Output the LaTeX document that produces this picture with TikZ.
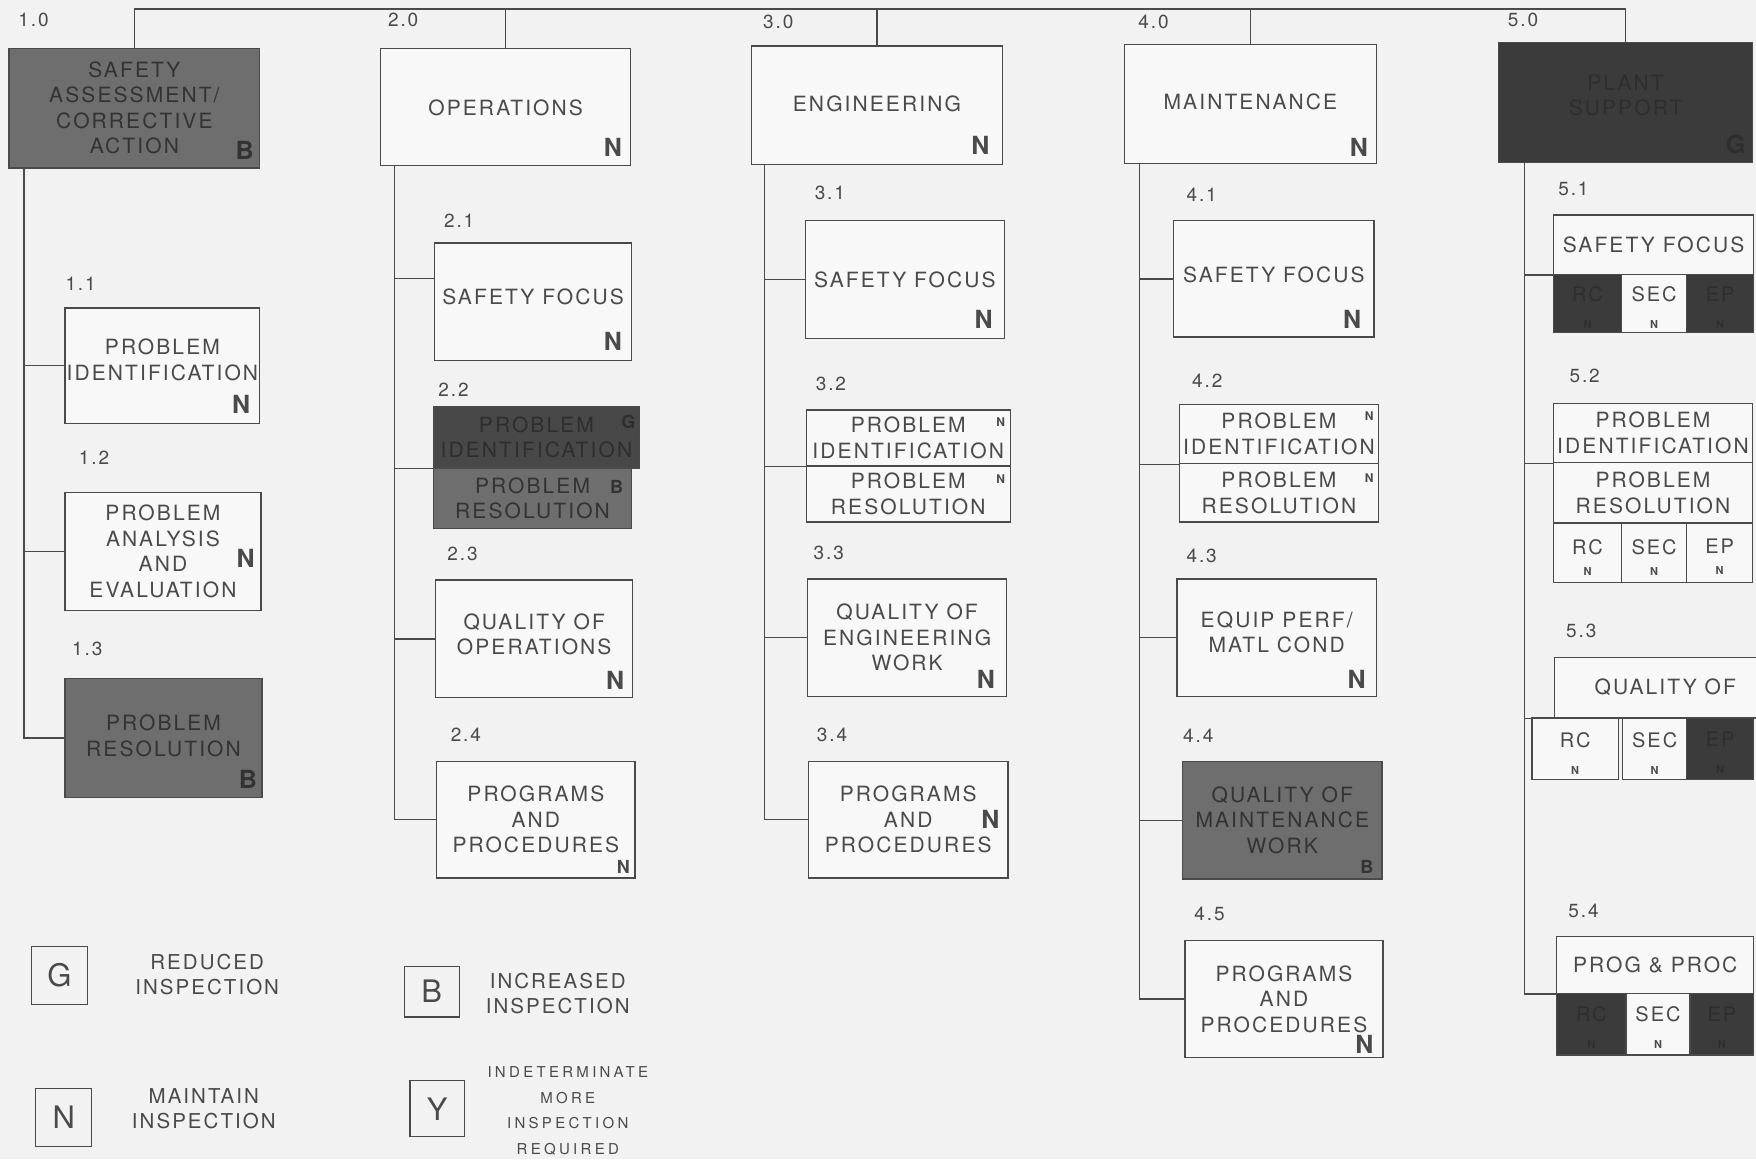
\documentclass[tikz,border=0pt]{standalone}
\usepackage{fontspec}
\setmainfont{TeX Gyre Heros}
\newfontfamily\boxfont[LetterSpace=10]{TeX Gyre Heros}
\newfontfamily\smallfont[LetterSpace=22]{TeX Gyre Heros}
\usetikzlibrary{fit,calc}

\definecolor{paper}{HTML}{F2F2F2}
\definecolor{boxfill}{HTML}{F8F8F8}
\definecolor{ink}{HTML}{4A4A4A}
\definecolor{midshade}{HTML}{6E6E6E}
\definecolor{deepshade}{HTML}{484848}
\definecolor{blackshade}{HTML}{3B3B3B}
\definecolor{shadeink}{HTML}{333333}
\definecolor{deepink}{HTML}{2E2E2E}

\tikzset{
  area/.style={draw=ink, line width=1.3pt, fill=boxfill, inner sep=0pt},
  midarea/.style={area, fill=midshade},
  deeparea/.style={area, fill=deepshade},
  blackarea/.style={area, fill=blackshade},
  word/.style={inner sep=0pt, align=center, text=ink,
    font=\boxfont\fontsize{21}{25.5}\selectfont},
  cellword/.style={word, font=\boxfont\fontsize{20}{27}\selectfont},
  tightword/.style={word, font=\boxfont\fontsize{20}{21}\selectfont},
  rate/.style={inner sep=0pt, text=ink, font=\bfseries\fontsize{25}{25}\selectfont},
  midrate/.style={rate, font=\bfseries\fontsize{18}{18}\selectfont},
  tinyrate/.style={rate, font=\bfseries\fontsize{12}{12}\selectfont},
  num/.style={text=ink, font=\boxfont\fontsize{19}{19}\selectfont},
  link/.style={draw=ink, line width=1.3pt},
  legbox/.style={draw=ink, line width=1.3pt, inner sep=0pt},
  legletter/.style={inner sep=0pt, text=ink, font=\fontsize{31}{31}\selectfont},
  legtext/.style={text=ink, align=center, font=\boxfont\fontsize{20.5}{25.5}\selectfont}
}
\newcommand{\cellN}{\\{\bfseries\fontsize{11}{11}\selectfont N}}

\begin{document}
\begin{tikzpicture}[x=1.12pt, y=-1.12pt]
   \useasboundingbox (0,0) rectangle (1568,1035);
   \clip (0,0) rectangle (1568,1035);
   \fill[paper] (0,0) rectangle (1568,1035);

   % top level areas
   \node[midarea, fit={(8,43) (232,150)}] (b10) {};
   \node[word, text=shadeink] (t10) at (b10) {SAFETY\\ASSESSMENT/\\CORRECTIVE\\ACTION};
   \node[area, fit={(340,43) (563,148)}] (b20) {};
   \node[word] (t20) at ($(b20)+(0,1)$) {OPERATIONS};
   \node[area, fit={(671,41) (895,147)}] (b30) {};
   \node[word] (t30) at ($(b30)+(0,-1)$) {ENGINEERING};
   \node[area, fit={(1004,40) (1229,146)}] (b40) {};
   \node[word] (t40) at ($(b40)+(0,-2)$) {MAINTENANCE};
   \node[blackarea, fit={(1338,38) (1565,145)}] (b50) {};
   \node[word, text=deepink] (t50) at ($(b50)+(0,-6)$) {PLANT\\SUPPORT};
   \node[num] (n10) at (30,18) {1.0};
   \node[num] (n20) at (360,18) {2.0};
   \node[num] (n30) at (695,20) {3.0};
   \node[num] (n40) at (1030,20) {4.0};
   \node[num] (n50) at (1360,18) {5.0};
   \coordinate (top) at (0,8);
   \draw[link] (b10.north) -- (b10.north |- top) -- (b50.north |- top) -- (b50.north);
   \draw[link] (b20.north) -- (b20.north |- top);
   \draw[link] (b30.north) -- (b30.north |- top);
   \draw[link] (b40.north) -- (b40.north |- top);
   \node[rate, text=shadeink, anchor=south east] (r10) at ($(b10.south east)+(-6,-8)$) {B};
   \node[rate, anchor=south east] (r20) at ($(b20.south east)+(-8,-9)$) {N};
   \node[rate, anchor=south east] (r30) at ($(b30.south east)+(-12,-9)$) {N};
   \node[rate, anchor=south east] (r40) at ($(b40.south east)+(-8,-7)$) {N};
   \node[rate, text=deepink, anchor=south east] (r50) at ($(b50.south east)+(-7,-8)$) {G};

   % 1.0
   \node[area, fit={(58,275) (232,378)}] (b11) {};
   \node[word] (t11) at ($(b11)+(0,-5)$) {PROBLEM\\IDENTIFICATION};
   \node[area, fit={(58,440) (233,545)}] (b12) {};
   \node[word] (t12) at (b12) {PROBLEM\\ANALYSIS\\AND\\EVALUATION};
   \node[midarea, fit={(58,606) (234,712)}] (b13) {};
   \node[word, text=shadeink] (t13) at ($(b13)+(0,-2)$) {PROBLEM\\RESOLUTION};
   \node[num] (n11) at (72,253) {1.1};
   \node[num] (n12) at (84,409) {1.2};
   \node[num] (n13) at (78,579) {1.3};
   \coordinate (s1) at ($(b10.south west)+(14,0)$);
   \draw[link] (s1) |- (b11.west);
   \draw[link] (s1) |- (b12.west);
   \draw[link] (s1) |- (b13.west);
   \node[rate, anchor=south east] (r11) at ($(b11.south east)+(-9,-9)$) {N};
   \node[rate, anchor=east] (r12) at ($(b12.east)+(-6,6)$) {N};
   \node[rate, text=shadeink, anchor=south east] (r13) at ($(b13.south east)+(-5,-8)$) {B};

   % 2.0
   \node[area, fit={(388,217) (564,322)}] (b21) {};
   \node[word] (t21) at ($(b21)+(0,-4)$) {SAFETY FOCUS};
   \node[deeparea, fit={(387,363) (571,418)}] (b22a) {};
   \node[word, text=deepink] (t22a) at (b22a) {PROBLEM\\IDENTIFICATION};
   \node[midarea, fit={(387,418) (564,472)}] (b22b) {};
   \node[word, text=shadeink] (t22b) at (b22b) {PROBLEM\\RESOLUTION};
   \node[area, fit={(389,518) (565,623)}] (b23) {};
   \node[word] (t23) at ($(b23)+(0,-4)$) {QUALITY OF\\OPERATIONS};
   \node[area, fit={(390,680) (567,784)}] (b24) {};
   \node[word] (t24) at (b24) {PROGRAMS\\AND\\PROCEDURES};
   \node[num] (n21) at (410,197) {2.1};
   \node[num] (n22) at (405,348) {2.2};
   \node[num] (n23) at (413,495) {2.3};
   \node[num] (n24) at (416,656) {2.4};
   \coordinate (s2) at ($(b20.south west)+(13,0)$);
   \draw[link] (s2) |- ([yshift=23pt]b21.west);
   \draw[link] (s2) |- (b22a.south west);
   \draw[link] (s2) |- (b23.west);
   \draw[link] (s2) |- (b24.west);
   \node[rate, anchor=south east] (r21) at ($(b21.south east)+(-9,-9)$) {N};
   \node[midrate, text=deepink, anchor=north east] (r22a) at ($(b22a.north east)+(-4,8)$) {G};
   \node[midrate, text=shadeink, anchor=north east] (r22b) at ($(b22b.north east)+(-8,11)$) {B};
   \node[rate, anchor=south east] (r23) at ($(b23.south east)+(-8,-8)$) {N};
   \node[midrate, anchor=south east] (r24) at ($(b24.south east)+(-5,-4)$) {N};

   % 3.0
   \node[area, fit={(719,197) (897,302)}] (b31) {};
   \node[word] (t31) at (b31) {SAFETY FOCUS};
   \node[area, fit={(720,366) (902,416)}] (b32a) {};
   \node[word] (t32a) at (b32a) {PROBLEM\\IDENTIFICATION};
   \node[area, fit={(720,416) (902,466)}] (b32b) {};
   \node[word] (t32b) at (b32b) {PROBLEM\\RESOLUTION};
   \node[area, fit={(721,517) (899,622)}] (b33) {};
   \node[word] (t33) at (b33) {QUALITY OF\\ENGINEERING\\WORK};
   \node[area, fit={(722,680) (900,784)}] (b34) {};
   \node[word] (t34) at (b34) {PROGRAMS\\AND\\PROCEDURES};
   \node[num] (n31) at (741,172) {3.1};
   \node[num] (n32) at (742,343) {3.2};
   \node[num] (n33) at (740,494) {3.3};
   \node[num] (n34) at (743,656) {3.4};
   \coordinate (s3) at ($(b30.south west)+(12,0)$);
   \draw[link] (s3) |- (b31.west);
   \draw[link] (s3) |- (b32a.south west);
   \draw[link] (s3) |- (b33.west);
   \draw[link] (s3) |- (b34.west);
   \node[rate, anchor=south east] (r31) at ($(b31.south east)+(-11,-9)$) {N};
   \node[tinyrate, anchor=north east] (r32a) at ($(b32a.north east)+(-5,7)$) {N};
   \node[tinyrate, anchor=north east] (r32b) at ($(b32b.north east)+(-5,8)$) {N};
   \node[rate, anchor=south east] (r33) at ($(b33.south east)+(-11,-8)$) {N};
   \node[rate, anchor=east] (r34) at ($(b34.east)+(-8,0)$) {N};

   % 4.0
   \node[area, fit={(1048,197) (1227,301)}] (b41) {};
   \node[word] (t41) at ($(b41)+(0,-4)$) {SAFETY FOCUS};
   \node[area, fit={(1053,361) (1231,414)}] (b42a) {};
   \node[word] (t42a) at (b42a) {PROBLEM\\IDENTIFICATION};
   \node[area, fit={(1053,414) (1231,466)}] (b42b) {};
   \node[word] (t42b) at (b42b) {PROBLEM\\RESOLUTION};
   \node[area, fit={(1051,517) (1229,622)}] (b43) {};
   \node[word] (t43) at ($(b43)+(0,-5)$) {EQUIP PERF/\\MATL COND};
   \node[midarea, fit={(1056,680) (1234,785)}] (b44) {};
   \node[word, text=shadeink] (t44) at (b44) {QUALITY OF\\MAINTENANCE\\WORK};
   \node[area, fit={(1058,840) (1235,944)}] (b45) {};
   \node[word] (t45) at (b45) {PROGRAMS\\AND\\PROCEDURES};
   \node[num] (n41) at (1073,174) {4.1};
   \node[num] (n42) at (1078,340) {4.2};
   \node[num] (n43) at (1073,496) {4.3};
   \node[num] (n44) at (1070,657) {4.4};
   \node[num] (n45) at (1080,816) {4.5};
   \coordinate (s4) at ($(b40.south west)+(14,0)$);
   \draw[link] (s4) |- (b41.west);
   \draw[link] (s4) |- (b42a.south west);
   \draw[link] (s4) |- (b43.west);
   \draw[link] (s4) |- (b44.west);
   \draw[link] (s4) |- (b45.west);
   \node[rate, anchor=south east] (r41) at ($(b41.south east)+(-12,-8)$) {N};
   \node[tinyrate, anchor=north east] (r42a) at ($(b42a.north east)+(-5,7)$) {N};
   \node[tinyrate, anchor=north east] (r42b) at ($(b42b.north east)+(-5,9)$) {N};
   \node[rate, anchor=south east] (r43) at ($(b43.south east)+(-10,-8)$) {N};
   \node[midrate, text=shadeink, anchor=south east] (r44) at ($(b44.south east)+(-8,-5)$) {B};
   \node[rate, anchor=south east] (r45) at ($(b45.south east)+(-9,-4)$) {N};

   % 5.0
   \node[area, fit={(1387,192) (1566,245)}] (b51) {};
   \node[word] (t51) at (b51) {SAFETY FOCUS};
   \node[blackarea, fit={(1387,245) (1448,297)}] (c51r) {};
   \node[cellword, text=deepink] (u51r) at ($(c51r)+(0,4)$) {RC\cellN};
   \node[area, fit={(1448,245) (1506,297)}] (c51s) {};
   \node[cellword] (u51s) at ($(c51s)+(0,4)$) {SEC\cellN};
   \node[blackarea, fit={(1506,245) (1566,297)}] (c51e) {};
   \node[cellword, text=deepink] (u51e) at ($(c51e)+(0,4)$) {EP\cellN};
   \node[area, fit={(1387,360) (1565,413)}] (b52a) {};
   \node[word] (t52a) at (b52a) {PROBLEM\\IDENTIFICATION};
   \node[area, fit={(1387,413) (1565,467)}] (b52b) {};
   \node[word] (t52b) at (b52b) {PROBLEM\\RESOLUTION};
   \node[area, fit={(1387,467) (1448,520)}] (c52r) {};
   \node[tightword] (u52r) at ($(c52r)+(0,4)$) {RC\cellN};
   \node[area, fit={(1448,467) (1506,520)}] (c52s) {};
   \node[tightword] (u52s) at ($(c52s)+(0,4)$) {SEC\cellN};
   \node[area, fit={(1506,467) (1565,520)}] (c52e) {};
   \node[tightword] (u52e) at ($(c52e)+(0,4)$) {EP\cellN};
   \node[area, fit={(1388,587) (1586,641)}] (b53) {};
   \node[word] (t53) at (b53) {QUALITY OF};
   \node[area, fit={(1368,641) (1445,696)}] (c53r) {};
   \node[cellword] (u53r) at ($(c53r)+(0,4)$) {RC\cellN};
   \node[area, fit={(1449,641) (1506,696)}] (c53s) {};
   \node[cellword] (u53s) at ($(c53s)+(0,4)$) {SEC\cellN};
   \node[blackarea, fit={(1506,641) (1566,696)}] (c53e) {};
   \node[cellword, text=deepink] (u53e) at ($(c53e)+(0,4)$) {EP\cellN};
   \node[area, fit={(1390,836) (1566,887)}] (b54) {};
   \node[word] (t54) at (b54) {PROG \& PROC};
   \node[blackarea, fit={(1390,887) (1452,942)}] (c54r) {};
   \node[cellword, text=deepink] (u54r) at ($(c54r)+(0,3)$) {RC\cellN};
   \node[area, fit={(1452,887) (1509,942)}] (c54s) {};
   \node[cellword] (u54s) at ($(c54s)+(0,3)$) {SEC\cellN};
   \node[blackarea, fit={(1509,887) (1566,942)}] (c54e) {};
   \node[cellword, text=deepink] (u54e) at ($(c54e)+(0,3)$) {EP\cellN};
   \node[num] (n51) at (1405,169) {5.1};
   \node[num] (n52) at (1415,336) {5.2};
   \node[num] (n53) at (1412,563) {5.3};
   \node[num] (n54) at (1414,813) {5.4};
   \coordinate (s5) at ($(b50.south west)+(24,0)$);
   \draw[link] (s5) |- (b51.south west);
   \draw[link] (s5) |- (b52a.south west);
   \draw[link] (s5) |- (b53.south west);
   \draw[link] (s5) |- (b54.south west);

   % legend
   \node[legbox, fit={(28,845) (78,897)}] (lg) {};
   \node[legletter] (kg) at (lg) {G};
   \node[legtext] (tg) at (185,870) {REDUCED\\INSPECTION};
   \node[legbox, fit={(361,863) (410,908)}] (lb) {};
   \node[legletter] (kb) at (lb) {B};
   \node[legtext] (tb) at (498,887) {INCREASED\\INSPECTION};
   \node[legbox, fit={(32,972) (82,1024)}] (ln) {};
   \node[legletter] (kn) at (ln) {N};
   \node[legtext] (tn) at (182,990) {MAINTAIN\\INSPECTION};
   \node[legbox, fit={(366,965) (415,1015)}] (ly) {};
   \node[legletter] (ky) at (ly) {Y};
   \node[legtext, font=\smallfont\fontsize{15}{25.8}\selectfont] (ty) at (507,992)
      {INDETERMINATE\\MORE\\INSPECTION\\REQUIRED};
\end{tikzpicture}
\end{document}
